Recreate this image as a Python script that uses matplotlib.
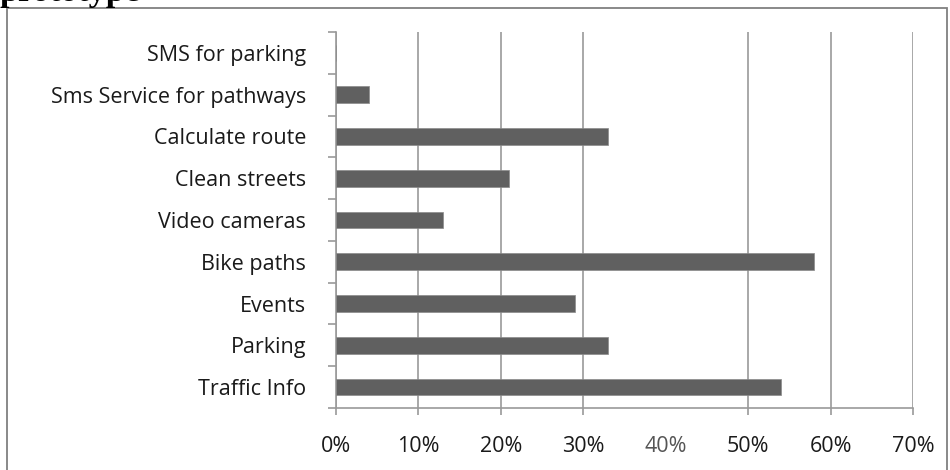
import matplotlib.pyplot as plt
from matplotlib.patches import Rectangle
from matplotlib.ticker import FixedLocator, FuncFormatter

features = ['SMS for parking', 'Sms Service for pathways', 'Calculate route',
            'Clean streets', 'Video cameras', 'Bike paths', 'Events',
            'Parking', 'Traffic Info']
share = [0, 4, 33, 21, 13, 58, 29, 33, 54]
xticks = [0, 10, 20, 30, 40, 50, 60, 70]

plt.rcParams['font.family'] = ['Open Sans', 'DejaVu Sans']

fig = plt.figure(figsize=(9.5, 4.7), dpi=100)
ax = fig.add_axes([336/950, 62/470, 577/950, 376/470])

pos = list(range(len(features)))
ax.barh(pos, share, height=0.4, color='#606060', edgecolor='#8a8a8a', linewidth=0.5, zorder=3)
ax.set_ylim(len(features) - 0.5, -0.5)
ax.set_xlim(0, 70)

ax.set_yticks(pos)
ax.set_yticklabels(features, fontsize=15.5, color='#1a1a1a')
ax.yaxis.set_minor_locator(FixedLocator([p - 0.5 for p in pos] + [len(pos) - 0.5]))
ax.tick_params(axis='y', which='major', length=0, pad=21.5)
ax.tick_params(axis='y', which='minor', length=6, width=1.2, color='#9a9a9a')

ax.set_xticks(xticks)
ax.xaxis.set_major_formatter(FuncFormatter(lambda v, p: '%d%%' % v))
ax.tick_params(axis='x', length=5, width=1.2, color='#9a9a9a', pad=15.5, labelsize=15.5, labelcolor='#1a1a1a')

ax.grid(axis='x', color='#9a9a9a', linewidth=1.2, zorder=0)
# the 40% line is not drawn on the original sheet
ax.xaxis.get_gridlines()[4].set_visible(False)
ax.xaxis.get_major_ticks()[4].tick1line.set_visible(False)
ax.xaxis.get_major_ticks()[4].label1.set_color('#555555')

for s in ['top', 'right']:
    ax.spines[s].set_visible(False)
for s in ['left', 'bottom']:
    ax.spines[s].set_color('#9a9a9a')
    ax.spines[s].set_linewidth(1.2)

# outer chart frame
fig.patches.append(Rectangle((7/950, -0.05), 940/950, (462/470) + 0.05,
                             transform=fig.transFigure, fill=False,
                             edgecolor='#808080', linewidth=1.3))

fig.text(0.0, 1 - 1/470, 'prototype', fontsize=24.5, fontweight='bold',
         family='Liberation Serif', va='baseline', ha='left')

fig.savefig('out.png', dpi=100)
